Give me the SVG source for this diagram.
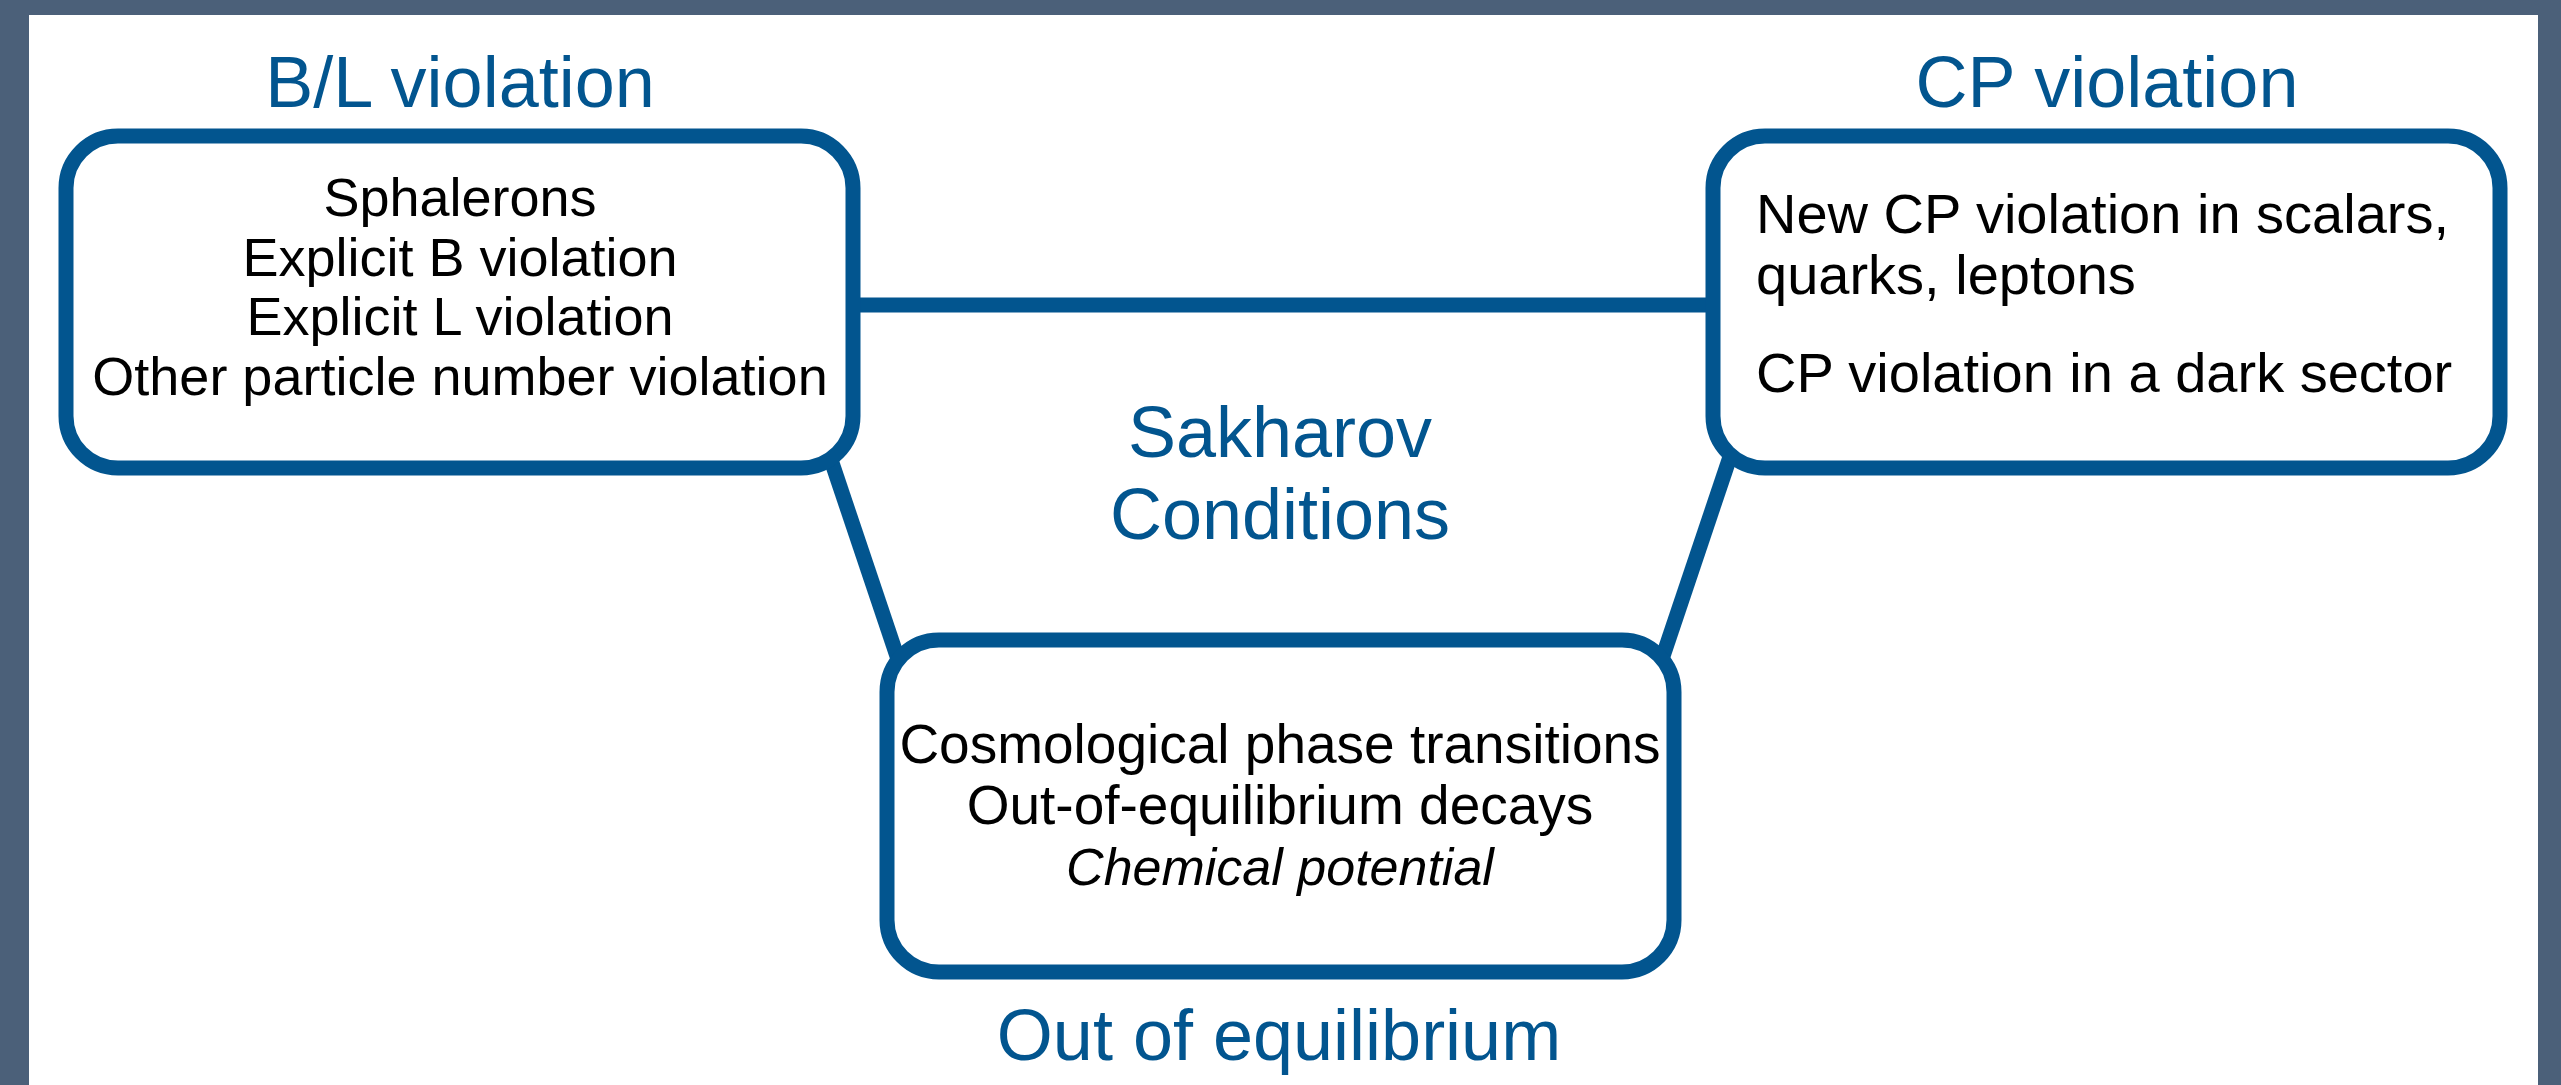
<svg xmlns="http://www.w3.org/2000/svg" width="2561" height="1085" viewBox="0 0 2561 1085">
<style>
.box{fill:#ffffff;stroke:#02558f;stroke-width:15}
.conn{stroke:#02558f;stroke-width:15;fill:none;stroke-linecap:butt}
.title{font-family:"Liberation Sans",Arial,sans-serif;font-size:72px;fill:#02558f;text-anchor:middle}
.body{font-family:"Liberation Sans",Arial,sans-serif;fill:#000000}
</style>
<rect x="0" y="0" width="2561" height="1085" fill="#4b6079"/>
<rect x="29" y="15" width="2509" height="1070" fill="#ffffff"/>
<g id="connectors">
<line class="conn" x1="840" y1="305" x2="1730" y2="305"/>
<line class="conn" x1="827" y1="448" x2="901" y2="668"/>
<line class="conn" x1="1733" y1="448" x2="1659" y2="668"/>
</g>
<g id="node-bl">
<rect class="box" x="66" y="136" width="787" height="332" rx="52" ry="52"/>
<text class="title" x="460" y="107">B/L violation</text>
<g class="body" font-size="54" text-anchor="middle">
<text x="460" y="216">Sphalerons</text>
<text x="460" y="276">Explicit B violation</text>
<text x="460" y="335">Explicit L violation</text>
<text x="460" y="395">Other particle number violation</text>
</g>
</g>
<g id="node-cp">
<rect class="box" x="1713" y="136" width="787" height="332" rx="52" ry="52"/>
<text class="title" x="2107" y="107">CP violation</text>
<g class="body" font-size="56">
<text x="1756" y="233">New CP violation in scalars,</text>
<text x="1756" y="294">quarks, leptons</text>
<text x="1756" y="392">CP violation in a dark sector</text>
</g>
</g>
<g id="node-eq">
<rect class="box" x="887" y="640" width="787" height="332" rx="52" ry="52"/>
<g class="body" font-size="55" text-anchor="middle">
<text x="1280" y="763">Cosmological phase transitions</text>
<text x="1280" y="824">Out-of-equilibrium decays</text>
<text x="1280" y="885" font-style="italic" font-size="52">Chemical potential</text>
</g>
<text class="title" x="1279" y="1060">Out of equilibrium</text>
</g>
<g id="center-label">
<text class="title" x="1280" y="457">Sakharov</text>
<text class="title" x="1280" y="539">Conditions</text>
</g>
</svg>
